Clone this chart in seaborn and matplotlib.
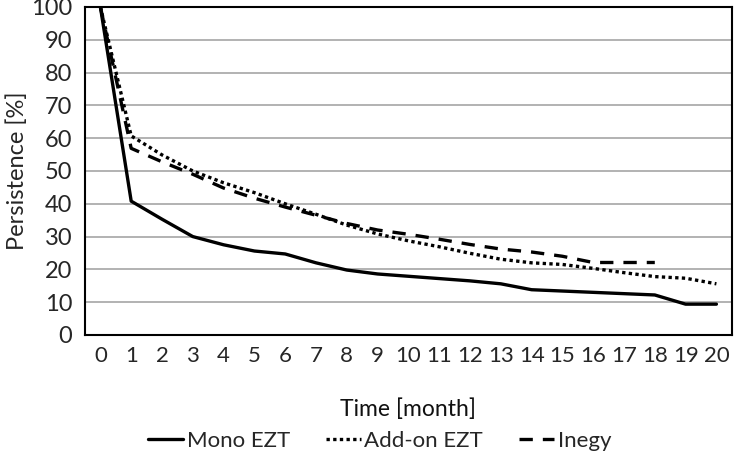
import pandas as pd
import matplotlib
matplotlib.use("Agg")
import matplotlib.pyplot as plt
import seaborn as sns

# Data
months = list(range(21))
mono_ezt = [100, 40.8, 35.3, 30.0, 27.5, 25.6, 24.7, 22.0, 19.8, 18.6, 17.9,
            17.2, 16.5, 15.6, 13.8, 13.4, 13.0, 12.6, 12.2, 9.4, 9.4]
addon_ezt = [100, 60.7, 54.9, 50.0, 46.4, 43.4, 40.0, 36.8, 33.5, 30.8, 28.7,
             26.9, 24.9, 23.1, 22.0, 21.5, 20.3, 19.0, 17.8, 17.3, 15.6]
inegy = [100, 56.9, 52.8, 49.0, 44.8, 41.7, 39.0, 36.5, 34.0, 32.0, 30.7,
         29.2, 27.6, 26.2, 25.3, 24.0, 22.1, 22.1, 22.1]
series_names = ["Mono EZT", "Add-on EZT", "Inegy"]
y_ticks = list(range(0, 101, 10))

rows = []
for name, vals in zip(series_names, [mono_ezt, addon_ezt, inegy]):
    for m, v in zip(months, vals):
        rows.append({"month": m, "persistence": v, "series": name})
df = pd.DataFrame(rows)

sns.set_style("white")
plt.rcParams["font.family"] = ["Lato", "DejaVu Sans"]

fig = plt.figure(figsize=(7.34, 4.65), dpi=100)
ax = fig.add_axes([0.1158, 0.2796, 0.8812, 0.7054])

# grid lines behind
for t in y_ticks[1:-1]:
    ax.axhline(t, color="#a6a6a6", lw=1.2, zorder=0)

sns.lineplot(data=df, x="month", y="persistence", style="series",
             style_order=series_names, color="black", linewidth=2.4,
             dashes={"Mono EZT": "", "Add-on EZT": (1, 1), "Inegy": (4, 3)},
             ax=ax, legend=True)

handles, labels = ax.get_legend_handles_labels()
ax.get_legend().remove()

ax.set_xlim(-0.5, 20.5)
ax.set_ylim(0, 100)
ax.set_xticks(months)
ax.set_xticklabels([str(m) for m in months])
ax.set_yticks(y_ticks)
ax.tick_params(axis="x", length=0, pad=8, labelsize=16)
ax.tick_params(axis="y", length=7, width=1.2, color="#a6a6a6", pad=2, labelsize=17)

for s in ax.spines.values():
    s.set_color("black")
    s.set_linewidth(1.5)

ax.set_xlabel("Time [month]", fontsize=16.5, labelpad=23, color="#111111")
ax.set_ylabel("Persistence [%]", fontsize=17, labelpad=2)

fig.legend(handles, labels, loc="center", bbox_to_anchor=(0.517, 0.052),
           ncol=3, frameon=False, fontsize=16, handlelength=1.6,
           handletextpad=0.15, columnspacing=1.6)

fig.savefig("out.png", dpi=100)
